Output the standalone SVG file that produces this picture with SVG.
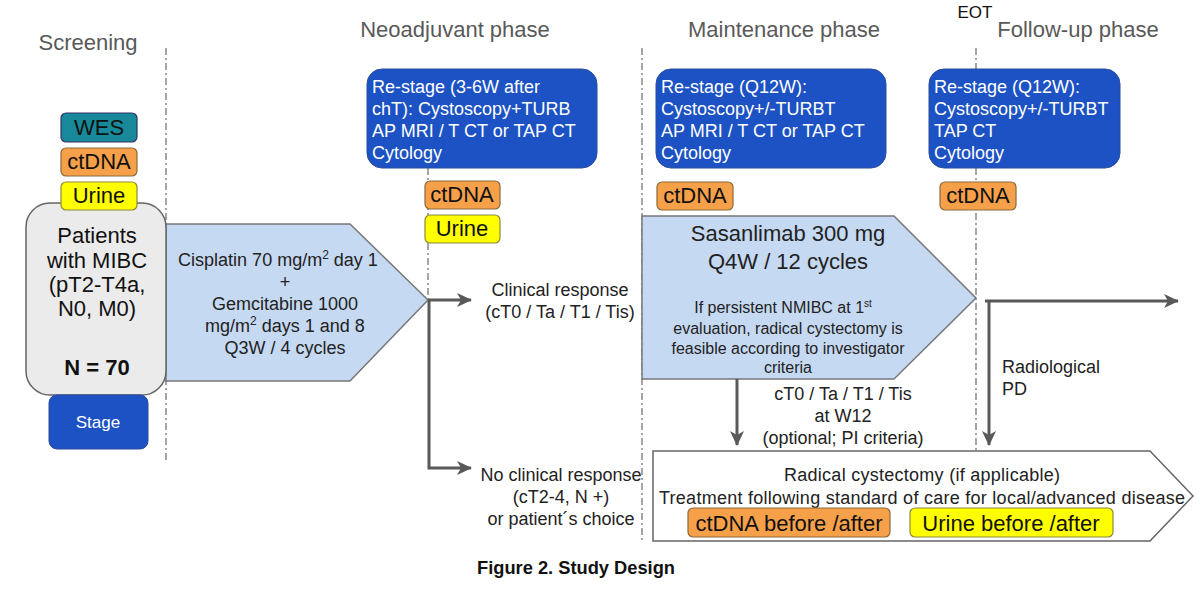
<svg xmlns="http://www.w3.org/2000/svg" width="1200" height="592" viewBox="0 0 1200 592">
<style>
text{font-family:"Liberation Sans",Arial,sans-serif;}
.phase{font-size:22px;fill:#595959;}
.guide{stroke:#6a6a6a;stroke-width:1.2;stroke-dasharray:7 3 2 3;fill:none;}
.blue{fill:#1c52c4;stroke:#2b4d9c;stroke-width:1;}
.bt{font-size:18px;fill:#ffffff;}
.tag{font-size:22px;fill:#111;text-anchor:middle;}
.orange{fill:#f7a04a;stroke:#8a6a3a;stroke-width:1.2;}
.yellow{fill:#ffff00;stroke:#8a8a3a;stroke-width:1.2;}
.teal{fill:#17899a;stroke:#336;stroke-width:1.2;}
.lbl{font-size:18px;fill:#222;text-anchor:middle;}
.big{font-size:22px;}
.small{font-size:16px;}
.conn{stroke:#595959;stroke-width:3;fill:none;}
.pent{fill:#c6d9f2;stroke:#777;stroke-width:1.5;}
</style>
<defs>
<marker id="arr" markerUnits="userSpaceOnUse" markerWidth="16" markerHeight="14" refX="14" refY="7" orient="auto">
<path d="M0,0 L15,7 L0,14 L4,7 z" fill="#595959"/>
</marker>
</defs>

<g id="phases">
<text class="phase" x="88" y="50" text-anchor="middle">Screening</text>
<text class="phase" x="455" y="37" text-anchor="middle">Neoadjuvant phase</text>
<text class="phase" x="784" y="37" text-anchor="middle">Maintenance phase</text>
<text x="975" y="18" text-anchor="middle" font-size="17" fill="#111">EOT</text>
<text class="phase" x="1078" y="37" text-anchor="middle">Follow-up phase</text>
</g>

<g id="guides">
<line class="guide" x1="166" y1="48" x2="166" y2="462"/>
<line class="guide" x1="428" y1="168" x2="428" y2="300"/>
<line class="guide" x1="642" y1="48" x2="642" y2="543"/>
<line class="guide" x1="976" y1="48" x2="976" y2="543"/>
</g>

<g id="chemo">
<polygon class="pent" points="166,224 350,224 428,300 350,381 166,381"/>
<text class="lbl"><tspan x="278" y="266">Cisplatin 70 mg/m<tspan dy="-7" font-size="12">2</tspan><tspan dy="7"> day 1</tspan></tspan></text>
<text class="lbl" x="285" y="288">+</text>
<text class="lbl" x="285" y="310">Gemcitabine 1000</text>
<text class="lbl"><tspan x="285" y="332">mg/m<tspan dy="-7" font-size="12">2</tspan><tspan dy="7"> days 1 and 8</tspan></tspan></text>
<text class="lbl" x="285" y="354">Q3W / 4 cycles</text>
</g>

<g id="patients">
<rect x="26" y="203" width="140" height="192" rx="24" fill="#ebebeb" stroke="#666" stroke-width="1.5"/>
<text class="tag" x="97" y="243">Patients</text>
<text class="tag" x="97" y="268">with MIBC</text>
<text class="tag" x="97" y="292">(pT2-T4a,</text>
<text class="tag" x="97" y="316">N0, M0)</text>
<text class="tag" x="97" y="375" font-weight="bold">N = 70</text>
</g>

<g id="wes"><rect class="teal" x="61" y="113" width="76" height="29" rx="5"/><text class="tag" x="99" y="135">WES</text></g>
<g id="ctdna0"><rect class="orange" x="61" y="148" width="76" height="28" rx="5"/><text class="tag" x="99" y="169">ctDNA</text></g>
<g id="urine0"><rect class="yellow" x="61" y="182" width="76" height="28" rx="5"/><text class="tag" x="99" y="203">Urine</text></g>

<g id="stage"><rect x="49" y="395" width="99" height="54" rx="8" fill="#1c52c4" stroke="#2b4d9c"/><text x="98" y="428" font-size="17" fill="#fff" text-anchor="middle">Stage</text></g>

<g id="restage1">
<rect class="blue" x="367" y="69" width="230" height="99" rx="15"/>
<text class="bt" x="372" y="93">Re-stage (3-6W after</text>
<text class="bt" x="372" y="115">chT): Cystoscopy+TURB</text>
<text class="bt" x="372" y="137">AP MRI / T CT or TAP CT</text>
<text class="bt" x="372" y="159">Cytology</text>
</g>
<g id="ctdna1"><rect class="orange" x="425" y="181" width="75" height="28" rx="5"/><text class="tag" x="462" y="202">ctDNA</text></g>
<g id="urine1"><rect class="yellow" x="425" y="215" width="75" height="28" rx="5"/><text class="tag" x="462" y="236">Urine</text></g>

<g id="restage2">
<rect class="blue" x="656" y="69" width="230" height="99" rx="15"/>
<text class="bt" x="661" y="93">Re-stage (Q12W):</text>
<text class="bt" x="661" y="115">Cystoscopy+/-TURBT</text>
<text class="bt" x="661" y="137">AP MRI / T CT or TAP CT</text>
<text class="bt" x="661" y="159">Cytology</text>
</g>
<g id="ctdna2"><rect class="orange" x="657" y="182" width="76" height="28" rx="5"/><text class="tag" x="695" y="203">ctDNA</text></g>

<g id="restage3">
<rect class="blue" x="929" y="69" width="191" height="99" rx="15"/>
<text class="bt" x="934" y="93">Re-stage (Q12W):</text>
<text class="bt" x="934" y="115">Cystoscopy+/-TURBT</text>
<text class="bt" x="934" y="137">TAP CT</text>
<text class="bt" x="934" y="159">Cytology</text>
</g>
<g id="ctdna3"><rect class="orange" x="940" y="182" width="76" height="28" rx="5"/><text class="tag" x="978" y="203">ctDNA</text></g>

<g id="maintenance">
<polygon class="pent" points="642,216 894,216 976,298 894,379 642,379"/>
<text class="lbl big" x="788" y="241">Sasanlimab 300 mg</text>
<text class="lbl big" x="788" y="269">Q4W / 12 cycles</text>
<text class="lbl small"><tspan x="783" y="313">If persistent NMIBC at 1<tspan dy="-6" font-size="10">st</tspan></tspan></text>
<text class="lbl small" x="788" y="334">evaluation, radical cystectomy is</text>
<text class="lbl small" x="788" y="354">feasible according to investigator</text>
<text class="lbl small" x="788" y="373">criteria</text>
</g>

<g id="final">
<polygon points="653,451 1150,451 1193,496 1150,541 653,541" fill="#fff" stroke="#666" stroke-width="1.5"/>
<text class="lbl" x="922" y="481" textLength="276">Radical cystectomy (if applicable)</text>
<text class="lbl" x="922" y="504" textLength="526">Treatment following standard of care for local/advanced disease</text>
<rect class="orange" x="688" y="508" width="202" height="29" rx="5"/>
<text class="tag" x="789" y="531">ctDNA before /after</text>
<rect class="yellow" x="910" y="508" width="203" height="29" rx="5"/>
<text class="tag" x="1011" y="531">Urine before /after</text>
</g>

<g id="labels">
<text class="lbl" x="560" y="296">Clinical response</text>
<text class="lbl" x="560" y="318">(cT0 / Ta / T1 / Tis)</text>
<text class="lbl" x="561" y="481">No clinical response</text>
<text class="lbl" x="561" y="503">(cT2-4, N +)</text>
<text class="lbl" x="561" y="525">or patient´s choice</text>
<text class="lbl" x="843" y="400">cT0 / Ta / T1 / Tis</text>
<text class="lbl" x="843" y="422">at W12</text>
<text class="lbl" x="843" y="444">(optional; PI criteria)</text>
<text x="1002" y="373" font-size="18" fill="#222">Radiological</text>
<text x="1002" y="395" font-size="18" fill="#222">PD</text>
</g>

<g id="connectors">
<path class="conn" d="M428,300 L471,300" marker-end="url(#arr)"/>
<path class="conn" d="M429,300 L429,468 L471,468" marker-end="url(#arr)"/>
<path class="conn" d="M737,379 L737,445" marker-end="url(#arr)"/>
<path class="conn" d="M985,301 L1178,301" marker-end="url(#arr)"/>
<path class="conn" d="M989,301 L989,445" marker-end="url(#arr)"/>
</g>

<text x="477" y="574" font-family="Lato,'Open Sans',sans-serif" font-weight="bold" font-size="18" fill="#111" textLength="198" lengthAdjust="spacingAndGlyphs">Figure 2. Study Design</text>
</svg>
